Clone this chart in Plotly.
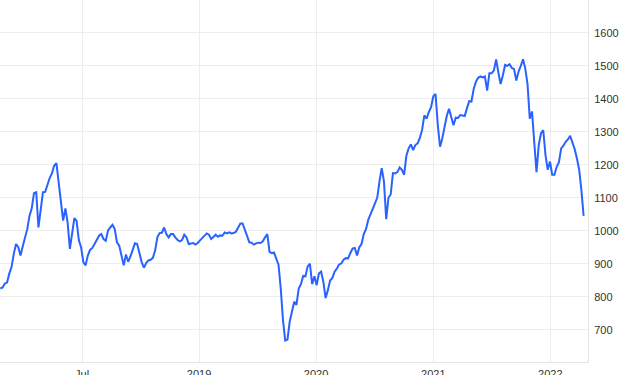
import pandas as pd
import plotly.graph_objects as go

# Weekly closing prices
start_date = "2017-04-21"
values = [
    825, 828, 840, 843, 870, 890, 930, 960, 950, 925,
    953, 980, 1005, 1045, 1068, 1114, 1117, 1010, 1071, 1117,
    1118, 1140, 1160, 1174, 1197, 1205, 1140, 1095, 1031, 1068,
    1025, 945, 985, 1038, 1030, 972, 950, 905, 895, 925,
    942, 948, 960, 971, 985, 990, 975, 970, 1001, 1010,
    1018, 1005, 965, 955, 920, 895, 928, 906, 922, 945,
    962, 960, 928, 905, 888, 902, 910, 912, 918, 940,
    980, 993, 994, 1010, 990, 980, 990, 990, 980, 972,
    968, 972, 988, 980, 960, 962, 963, 958, 963, 971,
    978, 988, 992, 988, 975, 981, 988, 982, 986, 985,
    995, 992, 995, 992, 993, 997, 1008, 1022, 1022, 1003,
    990, 965, 964, 958, 962, 964, 963, 968, 980, 990,
    936, 932, 934, 912, 897, 825, 728, 667, 670, 725,
    758, 785, 775, 825, 838, 863, 862, 892, 900, 838,
    862, 835, 870, 876, 845, 796, 820, 849, 857, 876,
    885, 898, 901, 912, 917, 916, 932, 946, 948, 925,
    950, 960, 990, 1005, 1033, 1050, 1064, 1083, 1100, 1150,
    1190, 1150, 1035, 1100, 1110, 1175, 1174, 1178, 1192, 1185,
    1170, 1228, 1250, 1262, 1245, 1260, 1265, 1282, 1306, 1350,
    1340, 1360, 1375, 1408, 1415, 1320, 1255, 1280, 1315, 1348,
    1370, 1340, 1320, 1343, 1342, 1351, 1350, 1348, 1372, 1393,
    1392, 1430, 1452, 1464, 1468, 1465, 1468, 1425, 1478, 1478,
    1486, 1520, 1480, 1445, 1472, 1503, 1500, 1505, 1494, 1490,
    1456, 1483, 1500, 1520, 1492, 1445, 1340, 1362, 1268, 1178,
    1260, 1296, 1305, 1230, 1185, 1210, 1170, 1170, 1194, 1208,
    1250, 1258, 1270, 1277, 1288, 1270, 1248, 1220, 1186, 1123,
    1045,
]
dates = pd.date_range(start_date, periods=len(values), freq="7D")

x_tick_dates = ["2018-01-01", "2019-01-01", "2020-01-01", "2021-01-01", "2022-01-01"]
x_tick_labels = ["Jul", "2019", "2020", "2021", "2022"]
y_ticks = [700, 800, 900, 1000, 1100, 1200, 1300, 1400, 1500, 1600]

fig = go.Figure(
    go.Scatter(
        x=dates,
        y=values,
        mode="lines",
        line=dict(color="#2962ff", width=2),
        hoverinfo="skip",
    )
)

fig.update_layout(
    width=640,
    height=375,
    margin=dict(l=0, r=52, t=0, b=13),
    paper_bgcolor="white",
    plot_bgcolor="white",
    showlegend=False,
    font=dict(family="Liberation Sans, Arial, sans-serif", size=11, color="#333333"),
)

fig.update_xaxes(
    type="date",
    range=["2017-04-20", "2022-04-28 16:00"],
    tickmode="array",
    tickvals=x_tick_dates,
    ticktext=x_tick_labels,
    showgrid=True,
    gridcolor="#ededed",
    gridwidth=1,
    showline=True,
    linecolor="#e3e3e3",
    linewidth=1,
    zeroline=False,
    ticks="",
    ticklabelstandoff=2,
    automargin=False,
    tickfont=dict(size=11, color="#333333"),
)

fig.update_yaxes(
    side="right",
    range=[602, 1700],
    tickmode="array",
    tickvals=y_ticks,
    showgrid=True,
    gridcolor="#ededed",
    gridwidth=1,
    showline=True,
    linecolor="#e3e3e3",
    linewidth=1,
    zeroline=False,
    ticks="",
    ticklabelstandoff=3,
    automargin=False,
    tickfont=dict(size=11, color="#333333"),
)

fig.write_html("out.html", config={"displayModeBar": False})
